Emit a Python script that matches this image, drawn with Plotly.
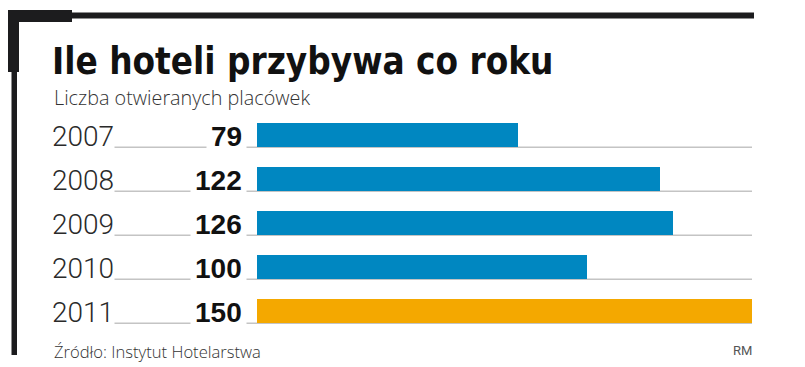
import plotly.graph_objects as go

years = ["2007", "2008", "2009", "2010", "2011"]
values = [79, 122, 126, 100, 150]
bar_colors = ["#0087c1", "#0087c1", "#0087c1", "#0087c1", "#f4a800"]
title_text = "Ile hoteli przybywa co roku"
subtitle_text = "Liczba otwieranych placówek"
source_text = "Źródło: Instytut Hotelarstwa"
credit_text = "RM"

W, H = 805, 367


def px(x):
    return x / W


def py(y):
    return 1 - y / H


fig = go.Figure()
fig.add_trace(go.Bar(
    y=years, x=values, orientation="h",
    marker=dict(color=bar_colors, line=dict(width=0)),
    width=0.56, hoverinfo="x+y",
))

shapes = []
# frame
frame_col = "#1c1c1e"
for (x0, y0, x1, y1) in [(8, 12.5, 754, 18.5), (8, 10, 72, 22), (8, 10, 19, 72), (11.5, 72, 17, 355)]:
    shapes.append(dict(type="rect", xref="paper", yref="paper",
                       x0=px(x0), x1=px(x1), y0=py(y1), y1=py(y0),
                       fillcolor=frame_col, line=dict(width=0), layer="above"))
# grey baselines
for i, yr in enumerate(years):
    shapes.append(dict(type="line", xref="paper", yref="y",
                       x0=px(52), x1=px(752), y0=i + 0.28, y1=i + 0.28,
                       line=dict(color="#c4c4c4", width=1.5), layer="below"))

annotations = []
light = "Roboto, Liberation Sans, Arial, sans-serif"
open_light = "Open Sans, Roboto, Liberation Sans, Arial, sans-serif"
for i, (yr, v) in enumerate(zip(years, values)):
    annotations.append(dict(xref="paper", yref="y", x=px(51), y=i, xanchor="left", yanchor="middle",
                            text=yr, showarrow=False, bgcolor="white", borderpad=0, yshift=-1,
                            font=dict(family=light, size=28, color="#2a2a2a", weight=300)))
    annotations.append(dict(xref="paper", yref="y", x=px(247), y=i, xanchor="right", yanchor="middle",
                            text="<b>%d</b>" % v, showarrow=False, bgcolor="white", borderpad=4, yshift=-1,
                            font=dict(family="Liberation Sans, Arial, sans-serif", size=28, color="#111111")))

annotations.append(dict(xref="paper", yref="paper", x=px(50), y=py(61), xanchor="left", yanchor="middle",
                        text="<b>%s</b>" % title_text, showarrow=False,
                        font=dict(family="DejaVu Sans Condensed, Liberation Sans Narrow, Arial Narrow, sans-serif",
                                  size=36.5, color="#111111")))
annotations.append(dict(xref="paper", yref="paper", x=px(52), y=py(97.5), xanchor="left", yanchor="middle",
                        text=subtitle_text, showarrow=False,
                        font=dict(family=open_light, size=19.8, color="#333333", weight=300)))
annotations.append(dict(xref="paper", yref="paper", x=px(52), y=py(351), xanchor="left", yanchor="middle",
                        text=source_text, showarrow=False,
                        font=dict(family=open_light, size=16.6, color="#333333", weight=300)))
annotations.append(dict(xref="paper", yref="paper", x=px(754), y=py(350), xanchor="right", yanchor="middle",
                        text=credit_text, showarrow=False,
                        font=dict(family=light, size=13, color="#555555")))

fig.update_layout(
    width=W, height=H,
    margin=dict(l=0, r=0, t=0, b=0),
    paper_bgcolor="white", plot_bgcolor="white",
    showlegend=False,
    bargap=0,
    xaxis=dict(range=[0, 150], domain=[px(257), px(752)], visible=False, fixedrange=True),
    yaxis=dict(type="category", categoryorder="array", categoryarray=years,
               range=[4.5, -0.5], domain=[py(333), py(113)], visible=False, fixedrange=True),
    shapes=shapes, annotations=annotations,
)

fig.write_html("out.html", config={"displayModeBar": False},
               post_script="document.body.style.margin='0';document.body.style.padding='0';")
